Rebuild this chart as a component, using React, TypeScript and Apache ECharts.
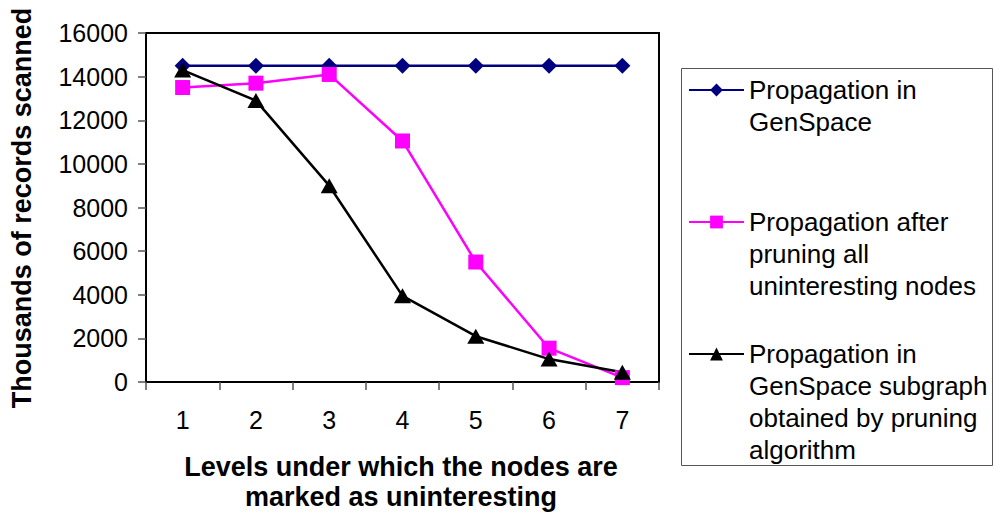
import React, { useEffect, useRef } from "react";
import * as echarts from "echarts";

const levels = ["1", "2", "3", "4", "5", "6", "7"];
const genSpace = [14500, 14500, 14500, 14500, 14500, 14500, 14500];
const afterPruning = [13500, 13700, 14100, 11050, 5500, 1550, 200];
const prunedSubgraph = [14300, 12900, 9000, 3950, 2100, 1050, 450];

const seriesNames = [
  "Propagation in\nGenSpace",
  "Propagation after\npruning all\nuninteresting nodes",
  "Propagation in\nGenSpace subgraph\nobtained by pruning\nalgorithm",
];

const FONT = "'Liberation Sans', Arial, sans-serif";
const LEGEND_LINE = 32;

export default function App() {
  const ref = useRef<HTMLDivElement>(null);

  useEffect(() => {
    if (!ref.current) return;
    const chart = echarts.init(ref.current, undefined, { renderer: "svg" });

    // One legend per series; leading blank lines keep the marker level with the first text line
    const legendCenters = [90, 222, 354];
    const legends = seriesNames.map((name, i) => {
      const lines = name.split("\n").length;
      const total = 2 * lines - 1;
      return {
        show: true,
        data: [name],
        orient: "vertical",
        left: 688,
        top: legendCenters[i] - (total * LEGEND_LINE) / 2,
        padding: 0,
        itemWidth: 55,
        itemHeight: 16,
        itemGap: 0,
        selectedMode: false,
        formatter: (n: string) => "\n".repeat(lines - 1) + n,
        textStyle: {
          fontFamily: FONT,
          fontSize: 26,
          color: "#000",
          lineHeight: LEGEND_LINE,
        },
      };
    });

    chart.setOption({
      animation: false,
      backgroundColor: "#fff",
      grid: {
        left: 146,
        top: 33,
        width: 513,
        height: 349,
        show: true,
        borderColor: "#000",
        borderWidth: 2,
        backgroundColor: "transparent",
      },
      legend: legends,
      xAxis: {
        type: "category",
        data: levels,
        boundaryGap: true,
        axisLine: { lineStyle: { color: "#000", width: 2 } },
        axisTick: { show: true, length: 8, lineStyle: { color: "#555", width: 1.5 } },
        axisLabel: { fontFamily: FONT, fontSize: 25, color: "#000", margin: 25 },
        splitLine: { show: false },
      },
      yAxis: {
        type: "value",
        min: 0,
        max: 16000,
        interval: 2000,
        axisLine: { show: true, lineStyle: { color: "#000", width: 2 } },
        axisTick: { show: true, length: 8, lineStyle: { color: "#555", width: 1.5 } },
        axisLabel: {
          fontFamily: FONT,
          fontSize: 25,
          color: "#000",
          margin: 18,
          formatter: (v: number) => String(v),
        },
        splitLine: { show: false },
      },
      graphic: [
        {
          type: "rect",
          shape: { x: 681.5, y: 68.5, width: 311, height: 397 },
          style: { fill: "none", stroke: "#555", lineWidth: 1 },
        },
        {
          type: "text",
          x: 401,
          y: 467,
          style: {
            text: "Levels under which the nodes are",
            font: `bold 27px ${FONT}`,
            fill: "#000",
            align: "center",
            verticalAlign: "middle",
          },
        },
        {
          type: "text",
          x: 401,
          y: 497,
          style: {
            text: "marked as uninteresting",
            font: `bold 27px ${FONT}`,
            fill: "#000",
            align: "center",
            verticalAlign: "middle",
          },
        },
        {
          type: "text",
          x: 22,
          y: 208,
          rotation: Math.PI / 2,
          style: {
            text: "Thousands of records scanned",
            font: `bold 27px ${FONT}`,
            fill: "#000",
            align: "center",
            verticalAlign: "middle",
          },
        },
      ],
      series: [
        {
          name: seriesNames[0],
          type: "line",
          data: genSpace,
          symbol: "diamond",
          symbolSize: 16,
          color: "#000080",
          lineStyle: { color: "#000080", width: 2.5 },
          itemStyle: { color: "#000080" },
        },
        {
          name: seriesNames[1],
          type: "line",
          data: afterPruning,
          symbol: "rect",
          symbolSize: 15,
          color: "#ff00ff",
          lineStyle: { color: "#ff00ff", width: 2.5 },
          itemStyle: { color: "#ff00ff" },
        },
        {
          name: seriesNames[2],
          type: "line",
          data: prunedSubgraph,
          symbol: "triangle",
          symbolSize: [17, 15],
          color: "#000",
          lineStyle: { color: "#000", width: 2.5 },
          itemStyle: { color: "#000" },
        },
      ],
    });

    return () => chart.dispose();
  }, []);

  return (
    <div
      ref={ref}
      style={{ position: "fixed", left: 0, top: 0, width: 994, height: 516, background: "#fff" }}
    />
  );
}
